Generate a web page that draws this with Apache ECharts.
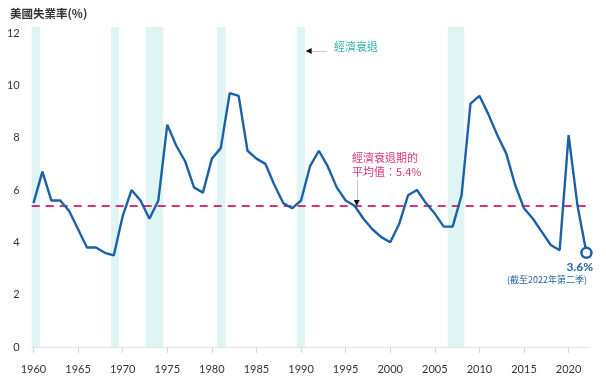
<!DOCTYPE html>
<html><head><meta charset="utf-8">
<script src="https://cdn.jsdelivr.net/npm/echarts@6/dist/echarts.min.js"></script>
<style>html,body{margin:0;padding:0;background:#fff}#c{width:606px;height:381px}</style>
</head><body><div id="c"></div>
<script>
const years = [1960,1961,1962,1963,1964,1965,1966,1967,1968,1969,1970,1971,1972,1973,1974,1975,1976,1977,1978,1979,1980,1981,1982,1983,1984,1985,1986,1987,1988,1989,1990,1991,1992,1993,1994,1995,1996,1997,1998,1999,2000,2001,2002,2003,2004,2005,2006,2007,2008,2009,2010,2011,2012,2013,2014,2015,2016,2017,2018,2019,2020,2021,2022];
const unemployment = [5.5,6.7,5.6,5.6,5.2,4.5,3.8,3.8,3.6,3.5,5.0,6.0,5.6,4.9,5.6,8.5,7.7,7.1,6.1,5.9,7.2,7.6,9.7,9.6,7.5,7.2,7.0,6.2,5.5,5.3,5.6,6.9,7.5,6.9,6.1,5.6,5.4,4.9,4.5,4.2,4.0,4.7,5.8,6.0,5.5,5.1,4.6,4.6,5.8,9.3,9.6,8.9,8.1,7.4,6.2,5.3,4.9,4.4,3.9,3.7,8.1,5.4,3.6];
const recessions = [[1959.72,1960.73],[1968.69,1969.59],[1972.58,1974.56],[1980.58,1981.55],[1989.52,1990.45],[2006.45,2008.31]];
const recessionAvg = 5.4;
const xTickLabels = [1960,1965,1970,1975,1980,1985,1990,1995,2000,2005,2010,2015,2020];
const yTickLabels = [0,2,4,6,8,10,12];

const FONT = 'Lato, "Noto Sans CJK TC", sans-serif';
const BLUE = '#1b61a6';
const PINK = '#d6337f';
const TEAL = '#2bb3a7';

const lineData = years.map((y,i)=>{
  const d = {value:[y, unemployment[i]]};
  if (i === years.length-1) {
    d.symbol = 'circle'; d.symbolSize = 10;
    d.itemStyle = {color:'#fff', borderColor: BLUE, borderWidth: 2.5};
  }
  return d;
});

const chart = echarts.init(document.getElementById('c'), null, {renderer:'canvas'});
chart.setOption({
  animation:false,
  backgroundColor:'#fff',
  textStyle:{fontFamily:FONT},
  grid:{left:31.7, right:16, top:27, bottom:34},
  xAxis:{type:'value', min:1959.8, max:2022.4,
    axisLine:{show:true, lineStyle:{color:'#e3e3e3', width:1}},
    axisTick:{show:true, customValues:xTickLabels, length:6, lineStyle:{color:'#d6d6d6'}},
    axisLabel:{customValues:xTickLabels, formatter:v=>String(Math.round(v)), color:'#333', fontSize:11, margin:17, fontFamily:FONT},
    splitLine:{show:false}},
  yAxis:{type:'value', min:0, max:12.23,
    axisLine:{show:false}, axisTick:{show:false},
    axisLabel:{customValues:yTickLabels, formatter:v=>String(Math.round(v)), color:'#333', fontSize:11, margin:12, fontFamily:FONT},
    splitLine:{show:false}},
  series:[
    {type:'line', data:lineData, symbol:'none', showSymbol:true, z:5,
     lineStyle:{color:BLUE, width:2.4}, itemStyle:{color:BLUE},
     markArea:{silent:true, itemStyle:{color:'#dff5f4'},
       data: recessions.map(r=>[{xAxis:r[0]},{xAxis:r[1]}])},
     markLine:{silent:true, symbol:'none', label:{show:false},
       data:[
         {yAxis:recessionAvg, lineStyle:{color:PINK, width:2, type:[8,6]}},
         [{coord:[1992.9,11.31]},{coord:[1990.9,11.31], lineStyle:{color:'#c8c8c8', width:1, type:'solid'}}],
         [{coord:[1996.25,6.38]},{coord:[1996.25,5.6], lineStyle:{color:'#c8c8c8', width:1, type:'solid'}}]
       ]},
     markPoint:{silent:true, label:{show:false},
       data:[
         {coord:[1990.85,11.31], symbol:'triangle', symbolSize:[6,6], symbolRotate:90, itemStyle:{color:'#111'}},
         {coord:[1996.25,5.5], symbol:'triangle', symbolSize:[6,6], symbolRotate:180, itemStyle:{color:'#111'}}
       ]}
    }
  ],
  graphic:[
    {type:'text', left:10, top:8, style:{text:'美國失業率(%)', fill:'#333', font:'bold 11.5px "Noto Sans CJK TC", sans-serif'}},
    {type:'text', left:334, top:41, style:{text:'經濟衰退', fill:TEAL, font:'11px "Noto Sans CJK TC", sans-serif'}},
    {type:'text', left:352, top:151, style:{text:'經濟衰退期的\n平均值：5.4%', fill:PINK, font:'11px "Noto Sans CJK TC", sans-serif', lineHeight:14}},
    {type:'text', right:13, top:261, style:{text:'3.6%', fill:BLUE, font:'bold 12px Lato, sans-serif'}},
    {type:'text', right:19, top:275, style:{text:'(截至2022年第二季)', fill:BLUE, font:'9px "Noto Sans CJK TC", sans-serif'}}
  ]
});
</script></body></html>
